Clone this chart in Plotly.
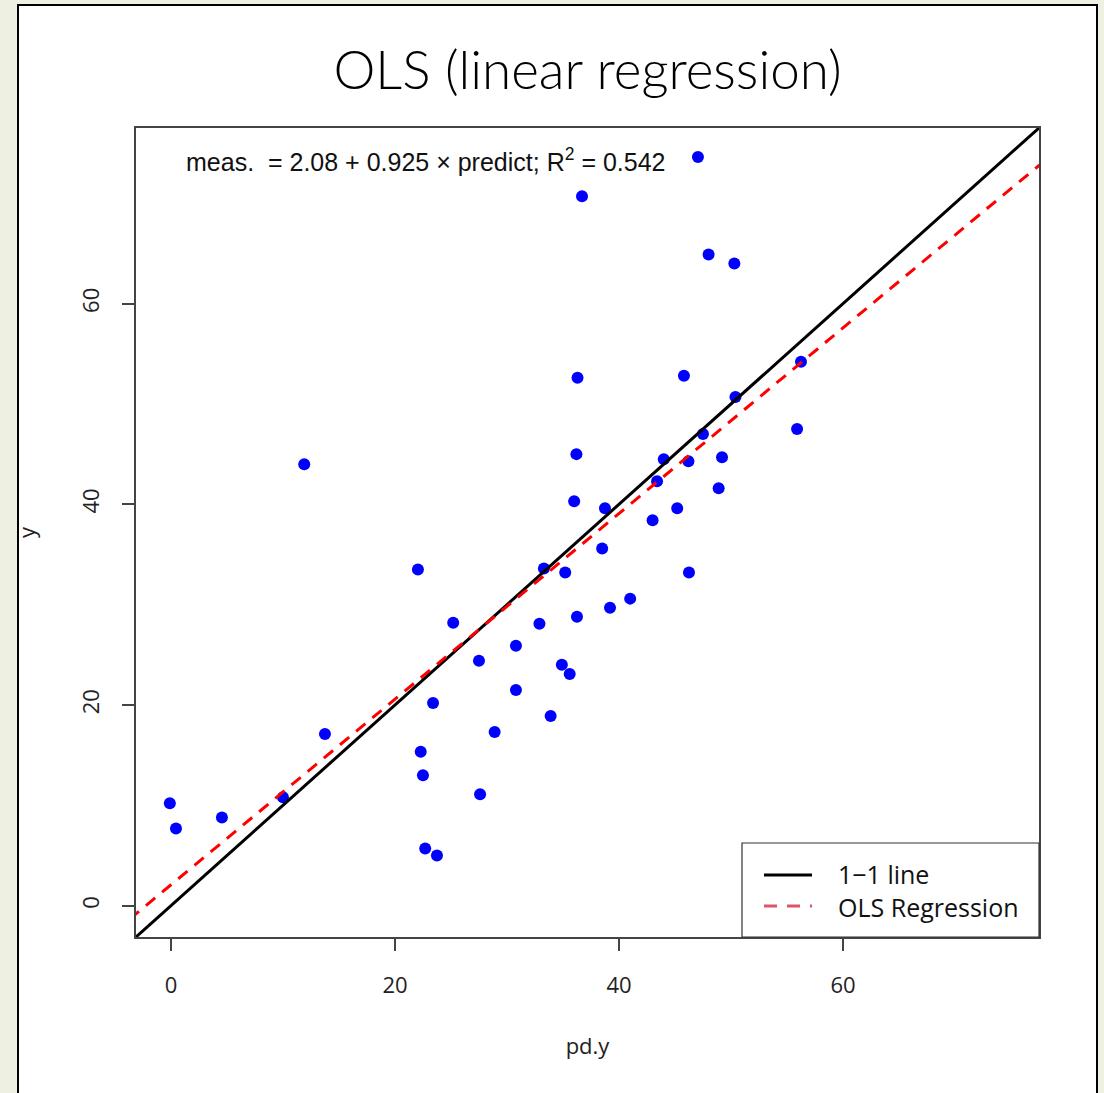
import plotly.graph_objects as go

# ---- data ----
pred_x = [-0.1, 0.45, 4.55, 10.0, 11.9, 13.75, 22.05, 22.3, 22.5, 22.7, 23.75, 23.4,
          25.2, 27.5, 27.6, 28.9, 30.8, 30.8, 32.9, 33.3, 33.9, 34.9, 35.2, 35.6,
          36.0, 36.2, 36.25, 36.3, 36.7, 38.5, 38.75, 39.2, 41.0, 43.0, 43.4, 44.0,
          45.2, 45.8, 46.2, 46.25, 47.05, 47.5, 48.0, 48.9, 49.2, 50.3, 50.4, 55.9, 56.25]
meas_y = [10.2, 7.7, 8.8, 10.8, 44.0, 17.1, 33.5, 15.35, 13.0, 5.7, 5.0, 20.2,
          28.2, 24.4, 11.1, 17.3, 25.9, 21.5, 28.1, 33.6, 18.9, 24.0, 33.2, 23.1,
          40.3, 45.0, 28.8, 52.6, 70.7, 35.6, 39.6, 29.7, 30.6, 38.4, 42.3, 44.5,
          39.6, 52.8, 44.3, 33.2, 74.6, 47.0, 64.9, 41.6, 44.7, 64.0, 50.7, 47.5, 54.2]
ols_intercept = 2.08
ols_slope = 0.925
r_squared = 0.542
tick_vals = [0, 20, 40, 60]
tick_text = ["0", "20", "40", "60"]
axis_range = [-3.12, 77.5]
legend_labels = ["1\u22121 line", "OLS Regression"]

line_x = [axis_range[0] - 2, axis_range[1] + 2]
one_to_one_y = line_x
ols_y = [ols_intercept + ols_slope * v for v in line_x]

# plot-area geometry (pixels) used to place the hand-built legend box
PL, PR, PT, PB = 136, 1039, 128, 937
PW, PH = PR - PL, PB - PT


def px(xp):
    return (xp - PL) / PW


def py(yp):
    return (PB - yp) / PH


fig = go.Figure()
fig.add_trace(go.Scatter(x=pred_x, y=meas_y, mode="markers",
                         marker=dict(color="#0000ff", size=12, line=dict(width=0)),
                         showlegend=False))
fig.add_trace(go.Scatter(x=line_x, y=one_to_one_y, mode="lines", name=legend_labels[0],
                         line=dict(color="black", width=3), showlegend=False))
fig.add_trace(go.Scatter(x=line_x, y=ols_y, mode="lines", name=legend_labels[1],
                         line=dict(color="#ff0000", width=3, dash="12px,9px"),
                         showlegend=False))

font_main = "Open Sans"
shapes = [
    # white slide panel with black frame
    dict(type="rect", xref="paper", yref="paper",
         x0=px(18), x1=px(1097), y0=py(1120), y1=py(5),
         fillcolor="white", line=dict(color="black", width=2), layer="below"),
    # legend box
    dict(type="rect", xref="paper", yref="paper",
         x0=px(742), x1=px(1039), y0=py(937), y1=py(843),
         fillcolor="white", line=dict(color="#333", width=1.2), layer="above"),
    dict(type="line", xref="paper", yref="paper",
         x0=px(764), x1=px(812), y0=py(875), y1=py(875),
         line=dict(color="black", width=3)),
    dict(type="line", xref="paper", yref="paper",
         x0=px(764), x1=px(812), y0=py(906), y1=py(906),
         line=dict(color="#DF536B", width=3, dash="13px,10px")),
]
annotations = [
    dict(text="meas.  = 2.08 + 0.925 \u00d7 predict; R<sup>2</sup> = 0.542",
         xref="paper", yref="paper", x=px(184), y=py(160),
         xanchor="left", yanchor="middle", showarrow=False,
         font=dict(family="Liberation Sans", size=25, color="#111")),
    dict(text=legend_labels[0], xref="paper", yref="paper", x=px(836), y=py(874),
         xanchor="left", yanchor="middle", showarrow=False,
         font=dict(family=font_main, size=25, color="#111")),
    dict(text=legend_labels[1], xref="paper", yref="paper", x=px(836), y=py(907),
         xanchor="left", yanchor="middle", showarrow=False,
         font=dict(family=font_main, size=25, color="#111")),
]

fig.update_layout(
    width=1104, height=1093,
    paper_bgcolor="#eef1e2",
    plot_bgcolor="white",
    margin=dict(l=PL, r=1104 - PR, t=PT, b=1093 - PB),
    title=dict(text="OLS (linear regression)", x=0.5, xref="paper", xanchor="center",
               y=1 - 70 / 1093, yref="container", yanchor="middle",
               font=dict(family="Lato", size=53, color="black", weight=300)),
    showlegend=False,
    shapes=shapes,
    annotations=annotations,
)
fig.update_xaxes(range=axis_range, tickvals=tick_vals, ticktext=tick_text,
                 showgrid=False, zeroline=False, showline=True, mirror=True,
                 linecolor="#444", linewidth=1.5, ticks="outside", ticklen=12,
                 tickcolor="#444", tickwidth=1.5,
                 tickfont=dict(family=font_main, size=22, color="#222"),
                 ticklabelstandoff=16,
                 title=dict(text="pd.y", standoff=40,
                            font=dict(family=font_main, size=22, color="#222")))
fig.update_yaxes(range=axis_range, tickvals=tick_vals, ticktext=tick_text,
                 showgrid=False, zeroline=False, showline=True, mirror=True,
                 linecolor="#444", linewidth=1.5, ticks="outside", ticklen=12,
                 tickcolor="#444", tickwidth=1.5, tickangle=-90,
                 tickfont=dict(family=font_main, size=22, color="#222"),
                 ticklabelstandoff=14,
                 title=dict(text="y", standoff=34,
                            font=dict(family=font_main, size=22, color="#222")))

fig.write_html("out.html")
